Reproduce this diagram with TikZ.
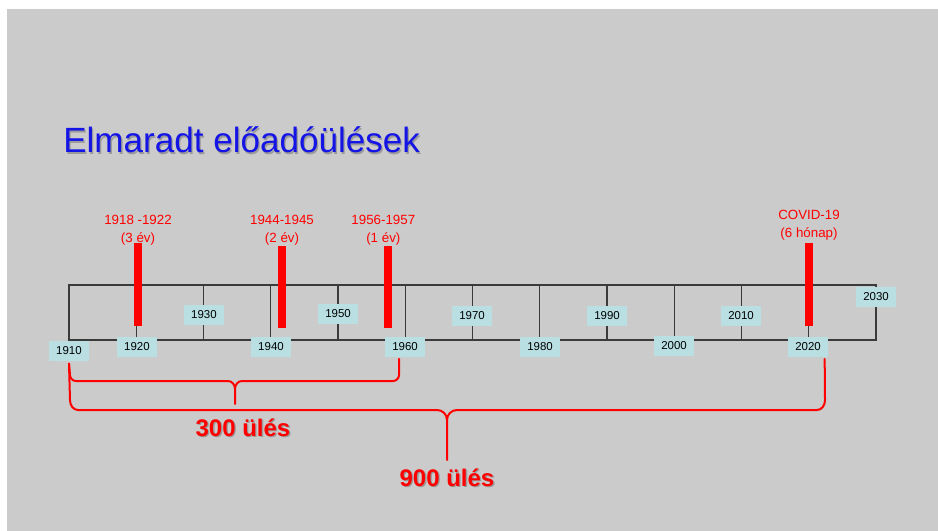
\documentclass[tikz,border=0pt]{standalone}
\usepackage{fontspec}
\setmainfont{Liberation Sans}
\usetikzlibrary{positioning}
\definecolor{slidegray}{HTML}{CBCBCB}
\definecolor{yearbox}{HTML}{B9DFE3}
\definecolor{titleblue}{HTML}{1414E6}
\definecolor{axisgray}{HTML}{3A3A3A}
\definecolor{shadowgray}{HTML}{9A9A9A}
\newcommand{\withshadow}[1]{\makebox[0pt][l]{\raisebox{-1pt}{\hspace{1pt}\textcolor{shadowgray}{#1}}}#1}

\begin{document}
\begin{tikzpicture}[
            x=0.75pt, y=-0.75pt,
            year/.style={fill=yearbox, minimum width=30pt, minimum height=15.5pt, inner sep=0pt, font=\fontsize{8.6}{10}\selectfont},
            gap/.style={fill=red, minimum width=5.5pt, inner sep=0pt},
            gaplabel/.style={text=red, align=center, inner sep=1pt, font=\fontsize{10}{13.5}\selectfont},
            brace/.style={draw=red, line width=1.5pt, line cap=round},
            total/.style={text=red, inner sep=0pt, font=\bfseries\fontsize{18}{20}\selectfont},
            axis/.style={draw=axisgray, line width=1.1pt}
        ]
        \useasboundingbox (0,0) rectangle (938,531);
        \fill[white] (0,0) rectangle (938,531);
        \fill[slidegray] (7,9) rectangle (938,531);

        \node[anchor=base west, inner sep=0pt, text=titleblue, font=\fontsize{26.3}{30}\selectfont] (title) at (63,153) {\withshadow{Elmaradt előadóülések}};

        % timeline frame and decade ticks
        \draw[axis] (69,285) rectangle (876,340);
        \foreach \i in {1,...,11}
            \draw[axis] (69+67.25*\i,285) -- (69+67.25*\i,340);

        \node[year] (y1910) at (69,351) {1910};
        \node[year] (y1920) at (137,347) {1920};
        \node[year] (y1930) at (204,315) {1930};
        \node[year] (y1940) at (271,347) {1940};
        \node[year] (y1950) at (338,314) {1950};
        \node[year] (y1960) at (405,347) {1960};
        \node[year] (y1970) at (472,316) {1970};
        \node[year] (y1980) at (540,347) {1980};
        \node[year] (y1990) at (607,316) {1990};
        \node[year] (y2000) at (674,346) {2000};
        \node[year] (y2010) at (741,316) {2010};
        \node[year] (y2020) at (808,347) {2020};
        \node[year] (y2030) at (876,297) {2030};

        % missed sessions
        \node[gap, minimum height=62.25pt] (b1920) at (138,284.5) {};
        \node[gap, minimum height=61.5pt] (b1940) at (282,287) {};
        \node[gap, minimum height=61.5pt] (b1960) at (388,287) {};
        \node[gap, minimum height=62.25pt] (b2020) at (809,284.5) {};

        \node[gaplabel, above=-3pt of b1920] (l1920) {1918 -1922\\(3 év)};
        \node[gaplabel, above=-1pt of b1940] (l1940) {1944-1945\\(2 év)};
        \node[gaplabel, above=-1pt of b1960, xshift=-3.5pt] (l1960) {1956-1957\\(1 év)};
        \node[gaplabel, above=1pt of b2020] (l2020) {COVID-19\\(6 hónap)};

        % braces
        \coordinate (tip300) at (235,404);
        \coordinate (tip900) at (447,460);
        \draw[brace] ([yshift=-1.5pt]y1910.south) -- (70,375) to[out=-90,in=180] (76,381) -- (228,381) to[out=0,in=90] (235,389) -- (tip300);
        \draw[brace] (235,389) to[out=90,in=180] (242,381) -- (393,381) to[out=0,in=-90] (399,375) -- ([xshift=-4.5pt,yshift=-1pt]y1960.south);
        \draw[brace] ([yshift=-1.5pt]y1910.south) -- (70,400) to[out=-90,in=180] (78,410) -- (437,410) to[out=0,in=90] (447,420) -- (tip900);
        \draw[brace] (447,420) to[out=90,in=180] (457,410) -- (817,410) to[out=0,in=-90] (825,400) -- ([xshift=12.5pt,yshift=-1pt]y2020.south);

        \node[total] (s300) at (243,428) {\withshadow{300 ülés}};
        \node[total] (s900) at (447,478) {\withshadow{900 ülés}};
    \end{tikzpicture}
\end{document}
